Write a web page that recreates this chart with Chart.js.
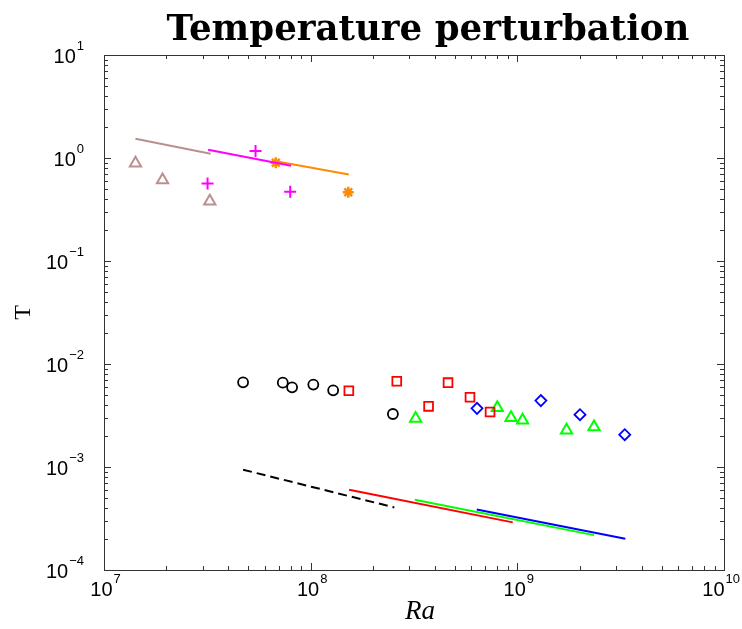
<!DOCTYPE html>
<html>
<head>
<meta charset="utf-8">
<script src="https://cdn.jsdelivr.net/npm/chart.js@4.4.1/dist/chart.umd.min.js"></script>
<style>
  html, body { margin: 0; padding: 0; background: #fff; }
  #wrap { width: 742px; height: 629px; }
</style>
</head>
<body>
<div id="wrap"><canvas id="tChart" width="742" height="629"></canvas></div>
<script>
// axis ticks
var xTicks = [1e7, 1e8, 1e9, 1e10];
var xExp = ['7', '8', '9', '10'];
var yTicks = [1e1, 1e0, 1e-1, 1e-2, 1e-3, 1e-4];
var yExp = ['1', '0', '\u22121', '\u22122', '\u22123', '\u22124'];

// measured points
var brownRa = [1.42e7, 1.92e7, 3.25e7];
var brownT = [0.89, 0.61, 0.38];
var magentaRa = [3.17e7, 5.41e7, 7.96e7];
var magentaT = [0.567, 1.17, 0.469];
var orangeRa = [6.78e7, 1.52e8];
var orangeT = [0.90, 0.464];
var blackRa = [4.71e7, 7.33e7, 8.13e7, 1.03e8, 1.285e8, 2.50e8];
var blackT = [6.64e-3, 6.59e-3, 5.94e-3, 6.31e-3, 5.55e-3, 3.27e-3];
var redRa = [1.53e8, 2.61e8, 3.72e8, 4.62e8, 5.90e8, 7.38e8];
var redT = [5.51e-3, 6.79e-3, 3.88e-3, 6.59e-3, 4.75e-3, 3.42e-3];
var greenRa = [3.22e8, 8.0e8, 9.32e8, 1.06e9, 1.73e9, 2.35e9];
var greenT = [2.95e-3, 3.77e-3, 3.01e-3, 2.84e-3, 2.28e-3, 2.44e-3];
var blueRa = [6.38e8, 1.30e9, 2.01e9, 3.31e9];
var blueT = [3.71e-3, 4.41e-3, 3.22e-3, 2.06e-3];

// fit lines (end points)
var brownFitRa = [1.42e7, 3.28e7];
var brownFitT = [1.54, 1.10];
var magentaFitRa = [3.19e7, 8.04e7];
var magentaFitT = [1.20, 0.84];
var orangeFitRa = [6.58e7, 1.53e8];
var orangeFitT = [0.94, 0.693];
var blackFitRa = [4.71e7, 2.54e8];
var blackFitT = [9.41e-4, 4.05e-4];
var redFitRa = [1.535e8, 9.5e8];
var redFitT = [6.02e-4, 2.90e-4];
var greenFitRa = [3.19e8, 2.35e9];
var greenFitT = [4.81e-4, 2.18e-4];
var blueFitRa = [6.36e8, 3.33e9];
var blueFitT = [3.87e-4, 2.01e-4];

function pts(xs, ys) {
  return xs.map(function (v, i) { return {x: v, y: ys[i]}; });
}

function marks(xs, ys, color, style, r, w) {
  return {
    data: pts(xs, ys),
    showLine: false,
    pointStyle: style,
    pointRadius: r,
    pointBorderColor: color,
    pointBackgroundColor: 'rgba(0,0,0,0)',
    pointBorderWidth: w
  };
}

function fit(xs, ys, color, dash) {
  return {
    data: pts(xs, ys),
    showLine: true,
    borderColor: color,
    borderWidth: 2,
    borderDash: dash || [],
    pointRadius: 0,
    fill: false
  };
}

var brown = 'rgb(188,143,143)';
var magenta = '#ff00ff';
var orange = '#ff8c00';

// frame, inward ticks, labels, titles
var decor = {
  id: 'decor',
  afterDraw: function (chart) {
    var ctx = chart.ctx, a = chart.chartArea;
    var x = chart.scales.x, y = chart.scales.y;
    ctx.save();
    ctx.strokeStyle = '#333';
    ctx.lineWidth = 1;
    ctx.strokeRect(a.left + 0.5, a.top + 0.5, a.right - a.left, a.bottom - a.top);

    ctx.beginPath();
    var i, k, px, py, len;
    for (i = 0; i < xTicks.length; i++) {
      for (k = 1; k <= 9; k++) {
        var v = xTicks[i] * k;
        if (v > xTicks[xTicks.length - 1]) break;
        px = Math.round(x.getPixelForValue(v)) + 0.5;
        len = k === 1 ? 7 : 4;
        ctx.moveTo(px, a.bottom); ctx.lineTo(px, a.bottom - len);
        ctx.moveTo(px, a.top); ctx.lineTo(px, a.top + len);
      }
    }
    for (i = 0; i < yTicks.length; i++) {
      for (k = 1; k <= 9; k++) {
        var w = yTicks[i] * k;
        if (w > yTicks[0]) break;
        py = Math.round(y.getPixelForValue(w)) + 0.5;
        len = k === 1 ? 7 : 4;
        ctx.moveTo(a.left, py); ctx.lineTo(a.left + len, py);
        ctx.moveTo(a.right, py); ctx.lineTo(a.right - len, py);
      }
    }
    ctx.stroke();

    ctx.fillStyle = '#000';
    var big = '20px "Liberation Sans", Arial, sans-serif';
    var small = '13px "Liberation Sans", Arial, sans-serif';
    // x tick labels
    for (i = 0; i < xTicks.length; i++) {
      px = x.getPixelForValue(xTicks[i]);
      ctx.font = big;
      var wb = ctx.measureText('10').width;
      ctx.font = small;
      var we = ctx.measureText(xExp[i]).width;
      var x0 = px - (wb + we) / 2 + 1;
      if (x0 + wb + 1 + we > 740) x0 = 740 - wb - 1 - we;
      ctx.font = big;
      ctx.textBaseline = 'alphabetic';
      ctx.textAlign = 'left';
      ctx.fillText('10', x0, a.bottom + 26);
      ctx.font = small;
      ctx.fillText(xExp[i], x0 + wb + 1, a.bottom + 13);
    }
    // y tick labels
    for (i = 0; i < yTicks.length; i++) {
      py = y.getPixelForValue(yTicks[i]);
      ctx.font = small;
      var we2 = ctx.measureText(yExp[i]).width;
      ctx.font = big;
      var wb2 = ctx.measureText('10').width;
      var right = a.left - 20;
      ctx.textAlign = 'left';
      ctx.fillText('10', right - we2 - 1 - wb2, py + 8);
      ctx.font = small;
      ctx.fillText(yExp[i], right - we2, py - 5);
    }

    // title
    var size = 32;
    ctx.font = 'bold ' + size + 'px "DejaVu Serif", serif';
    var tw = ctx.measureText('Temperature perturbation').width;
    size = size * 523 / tw;
    ctx.font = 'bold ' + size.toFixed(1) + 'px "DejaVu Serif", serif';
    ctx.textAlign = 'center';
    ctx.fillText('Temperature perturbation', 428, 40);

    // axis titles
    ctx.font = 'italic 27px "Liberation Serif", "DejaVu Serif", serif';
    ctx.fillText('Ra', 420, 619);
    ctx.save();
    ctx.translate(30, (a.top + a.bottom) / 2);
    ctx.rotate(-Math.PI / 2);
    ctx.font = '24px "Liberation Serif", "DejaVu Serif", serif';
    ctx.textBaseline = 'alphabetic';
    ctx.fillText('T', 0, 0);
    ctx.restore();
    ctx.restore();
  }
};

new Chart(document.getElementById('tChart'), {
  type: 'scatter',
  data: {
    datasets: [
      fit(brownFitRa, brownFitT, brown),
      fit(magentaFitRa, magentaFitT, magenta),
      fit(orangeFitRa, orangeFitT, orange),
      fit(blackFitRa, blackFitT, '#000', [9, 5]),
      fit(redFitRa, redFitT, '#ff0000'),
      fit(greenFitRa, greenFitT, '#00ff00'),
      fit(blueFitRa, blueFitT, '#0000ff'),
      marks(brownRa, brownT, brown, 'triangle', 6.5, 2),
      marks(magentaRa, magentaT, magenta, 'cross', 6, 2),
      marks(orangeRa, orangeT, orange, 'star', 5.5, 2.5),
      marks(blackRa, blackT, '#000', 'circle', 5, 1.8),
      marks(redRa, redT, '#ff0000', 'rect', 6.2, 1.8),
      marks(greenRa, greenT, '#00ff00', 'triangle', 6.5, 2),
      marks(blueRa, blueT, '#0000ff', 'rectRot', 5.5, 1.8)
    ]
  },
  options: {
    responsive: false,
    animation: false,
    layout: { padding: { left: 104, right: 18, top: 55, bottom: 59 } },
    plugins: { legend: { display: false }, tooltip: { enabled: false }, title: { display: false } },
    scales: {
      x: { type: 'logarithmic', min: 1e7, max: 1e10, display: false },
      y: { type: 'logarithmic', min: 1e-4, max: 1e1, display: false }
    }
  },
  plugins: [decor]
});
</script>
</body>
</html>
